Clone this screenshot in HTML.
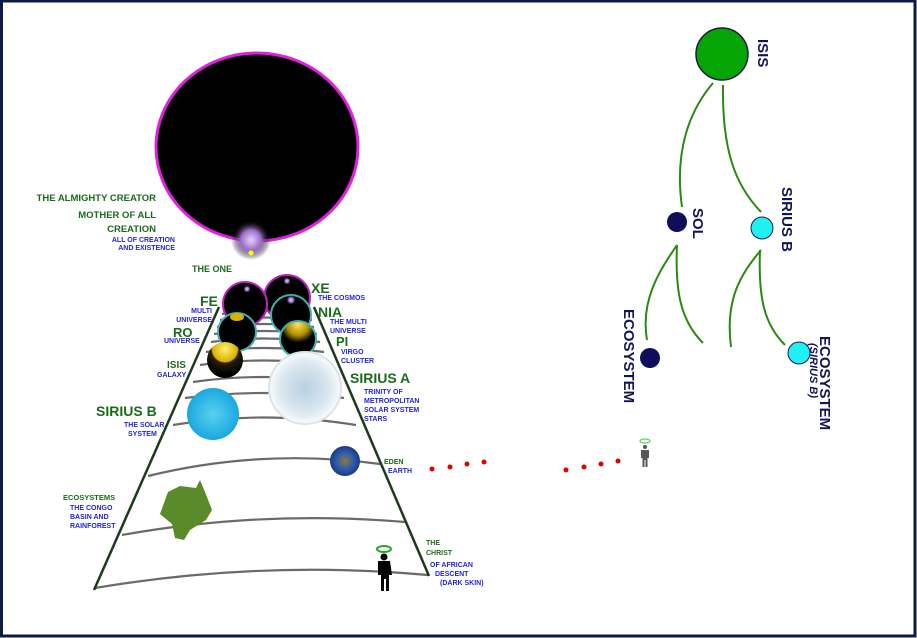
<!DOCTYPE html>
<html><head><meta charset="utf-8"><style>
html,body{margin:0;padding:0;background:#fff;}
svg{display:block;}
text{font-family:"Liberation Sans",sans-serif;font-weight:bold;}
.g{fill:#1c6b1c;}
.b{fill:#2424d8;font-size:7px;}
.n{fill:#14145a;font-size:15px;}
</style></head><body>
<svg width="917" height="638" viewBox="0 0 917 638" xmlns="http://www.w3.org/2000/svg">
<defs>
<radialGradient id="glow" cx="0.5" cy="0.5" r="0.5"><stop offset="0" stop-color="#e8d0ff"/><stop offset="0.5" stop-color="#9a70c8"/><stop offset="1" stop-color="#000" stop-opacity="0"/></radialGradient>
<radialGradient id="yel" cx="0.5" cy="0.2" r="0.7"><stop offset="0" stop-color="#fff070"/><stop offset="0.5" stop-color="#d8b000"/><stop offset="0.55" stop-color="#2a2000"/><stop offset="1" stop-color="#000"/></radialGradient>
<radialGradient id="yel2" cx="0.5" cy="0.1" r="0.5"><stop offset="0" stop-color="#ffe060"/><stop offset="0.6" stop-color="#b09000"/><stop offset="1" stop-color="#000"/></radialGradient>
<radialGradient id="sa" cx="0.5" cy="0.5" r="0.5"><stop offset="0" stop-color="#b8d0e0"/><stop offset="0.7" stop-color="#dce8f0"/><stop offset="1" stop-color="#fafcfe"/></radialGradient>
<radialGradient id="sb" cx="0.5" cy="0.5" r="0.5"><stop offset="0" stop-color="#5ad0f0"/><stop offset="1" stop-color="#1aa8e0"/></radialGradient>
<radialGradient id="earth" cx="0.5" cy="0.5" r="0.5"><stop offset="0" stop-color="#8a7a40"/><stop offset="0.6" stop-color="#2a5ab0"/><stop offset="1" stop-color="#1a3a80"/></radialGradient>
</defs>
<rect x="1.5" y="1" width="913.5" height="635" fill="#fff" stroke="#0e1a40" stroke-width="3"/>

<ellipse cx="257" cy="147" rx="101" ry="94" fill="#000" stroke="#e020e0" stroke-width="3"/>
<circle cx="251" cy="240" r="20" fill="url(#glow)"/>
<circle cx="251" cy="253" r="2.5" fill="#ff0"/>

<g fill="none" stroke="#6a6a6a" stroke-width="2.2">
<path d="M222 314 Q262 308 311 314"/>
<path d="M220 320 Q262 315 312 320"/>
<path d="M217 327 Q262 321 314 327"/>
<path d="M214 334 Q262 328 317 334"/>
<path d="M211 342 Q262 335 320 342"/>
<path d="M206 352 Q262 344 324 352"/>
<path d="M200 365 Q262 356 330 365"/>
<path d="M193 382 Q262 372 337 382"/>
<path d="M185 398 Q262 388 344 398"/>
<path d="M173 425 Q262 410 356 425"/>
<path d="M148 476 Q262 448 380 464"/>
<path d="M122 535 Q262 510 405 522"/>
<path d="M95 588 Q262 560 428 575"/>
</g>
<line x1="219" y1="307" x2="94" y2="590" stroke="#1e3a1e" stroke-width="2.5"/>
<line x1="314" y1="307" x2="429" y2="576" stroke="#1e3a1e" stroke-width="2.5"/>

<circle cx="287" cy="298" r="23" fill="#000" stroke="#c020c0" stroke-width="2"/>
<circle cx="287" cy="281" r="4" fill="url(#glow)"/>
<circle cx="245" cy="304" r="22" fill="#000" stroke="#c020c0" stroke-width="2"/>
<circle cx="247" cy="289" r="4" fill="url(#glow)"/>
<circle cx="291" cy="315" r="20" fill="#000" stroke="#40b0b0" stroke-width="2"/>
<circle cx="291" cy="300" r="5" fill="url(#glow)"/>
<circle cx="237" cy="332" r="19" fill="#000" stroke="#40b0b0" stroke-width="2"/>
<ellipse cx="237" cy="317" rx="7" ry="4" fill="#d8b000"/>
<circle cx="298" cy="339" r="18" fill="url(#yel2)" stroke="#40b0b0" stroke-width="2"/>
<circle cx="225" cy="360" r="18" fill="url(#yel)"/>
<circle cx="305" cy="388" r="36" fill="url(#sa)" stroke="#d8e4ec" stroke-width="2"/>
<circle cx="213" cy="414" r="26" fill="url(#sb)"/>
<circle cx="345" cy="461" r="15" fill="url(#earth)"/>
<path d="M168 492 L180 486 L196 488 L200 480 L205 492 L212 510 L206 520 L190 530 L184 540 L175 538 L172 524 L160 514 Z" fill="#5a8a2a"/>
<ellipse cx="384" cy="549" rx="7" ry="3" fill="none" stroke="#2a2" stroke-width="2"/>
<circle cx="384" cy="557" r="3.5" fill="#000"/>
<path d="M378 561 h12 l2 14 h-3 v16 h-3 v-12 h-2 v12 h-3 v-16 h-3 z" fill="#000"/>

<g fill="#e00000"><circle cx="432" cy="469" r="2.5"/><circle cx="450" cy="467" r="2.5"/><circle cx="467" cy="464" r="2.5"/><circle cx="484" cy="462" r="2.5"/>
<circle cx="566" cy="470" r="2.5"/><circle cx="584" cy="467" r="2.5"/><circle cx="601" cy="464" r="2.5"/><circle cx="618" cy="461" r="2.5"/></g>
<ellipse cx="645" cy="441" rx="5" ry="2" fill="none" stroke="#6c6" stroke-width="1.2"/>
<circle cx="645" cy="447" r="2" fill="#555"/>
<path d="M641 450 h8 v8 h-1.5 v9 h-2 v-7 h-1 v7 h-2 v-9 h-1.5 z" fill="#555"/>

<g class="g" font-size="9.5" text-anchor="end">
<text x="156" y="201">THE ALMIGHTY CREATOR</text>
<text x="156" y="218">MOTHER OF ALL</text>
<text x="156" y="232">CREATION</text>
</g>
<g class="b" text-anchor="end"><text x="175" y="242">ALL OF CREATION</text><text x="175" y="250">AND EXISTENCE</text></g>
<text class="g" x="192" y="272" font-size="9">THE ONE</text>
<text class="g" x="200" y="306" font-size="14">FE</text>
<g class="b" text-anchor="end"><text x="212" y="313">MULTI</text><text x="212" y="322">UNIVERSE</text></g>
<text class="g" x="173" y="337" font-size="13">RO</text>
<text class="b" x="164" y="343">UNIVERSE</text>
<text class="g" x="167" y="368" font-size="10">ISIS</text>
<text class="b" x="157" y="377">GALAXY</text>
<text class="g" x="96" y="416" font-size="14">SIRIUS B</text>
<text class="b" x="124" y="427">THE SOLAR</text><text class="b" x="128" y="436">SYSTEM</text>
<text class="g" x="311" y="293" font-size="14">XE</text>
<text class="b" x="318" y="300">THE COSMOS</text>
<text class="g" x="318" y="317" font-size="14">NIA</text>
<text class="b" x="330" y="324">THE MULTI</text><text class="b" x="330" y="333">UNIVERSE</text>
<text class="g" x="336" y="346" font-size="13">PI</text>
<text class="b" x="341" y="354">VIRGO</text><text class="b" x="341" y="363">CLUSTER</text>
<text class="g" x="350" y="383" font-size="14">SIRIUS A</text>
<g class="b"><text x="364" y="394">TRINITY OF</text><text x="364" y="403">METROPOLITAN</text><text x="364" y="412">SOLAR SYSTEM</text><text x="364" y="421">STARS</text></g>
<text class="g" x="384" y="464" font-size="7">EDEN</text>
<text class="b" x="388" y="473">EARTH</text>
<text class="g" x="63" y="500" font-size="7.5">ECOSYSTEMS</text>
<g class="b"><text x="70" y="510">THE CONGO</text><text x="70" y="519">BASIN AND</text><text x="70" y="528">RAINFOREST</text></g>
<text class="g" x="426" y="545" font-size="7">THE</text><text class="g" x="426" y="555" font-size="7">CHRIST</text>
<g class="b"><text x="430" y="567">OF AFRICAN</text><text x="435" y="576">DESCENT</text><text x="440" y="585">(DARK SKIN)</text></g>

<g fill="none" stroke="#2a8a10" stroke-width="2">
<path d="M713 83 C690 110 674 150 682 207"/>
<path d="M723 85 C722 150 735 185 761 212"/>
<path d="M677 245 C660 270 640 300 647 340"/>
<path d="M677 245 C675 290 680 320 703 343"/>
<path d="M761 250 C740 275 725 300 731 347"/>
<path d="M760 250 C758 300 765 325 785 345"/>
</g>
<circle cx="722" cy="54" r="26" fill="#05a505" stroke="#1a1a40" stroke-width="1.5"/>
<circle cx="677" cy="222" r="10" fill="#0e0e5a"/>
<circle cx="762" cy="228" r="11" fill="#20f0f0" stroke="#1a1a60" stroke-width="1"/>
<circle cx="650" cy="358" r="10" fill="#0e0e5a"/>
<circle cx="799" cy="353" r="11" fill="#20f0f0" stroke="#1a1a60" stroke-width="1"/>
<text class="n" transform="translate(758,39) rotate(90)">ISIS</text>
<text class="n" transform="translate(693,208) rotate(90)">SOL</text>
<text class="n" transform="translate(782,187) rotate(90)">SIRIUS B</text>
<text class="n" transform="translate(624,309) rotate(90)">ECOSYSTEM</text>
<text class="n" transform="translate(820,336) rotate(90)">ECOSYSTEM</text>
<text transform="translate(810,343) rotate(90)" font-size="11" font-style="italic" font-weight="normal" fill="#14145a">(SIRIUS B)</text>
</svg>
</body></html>
